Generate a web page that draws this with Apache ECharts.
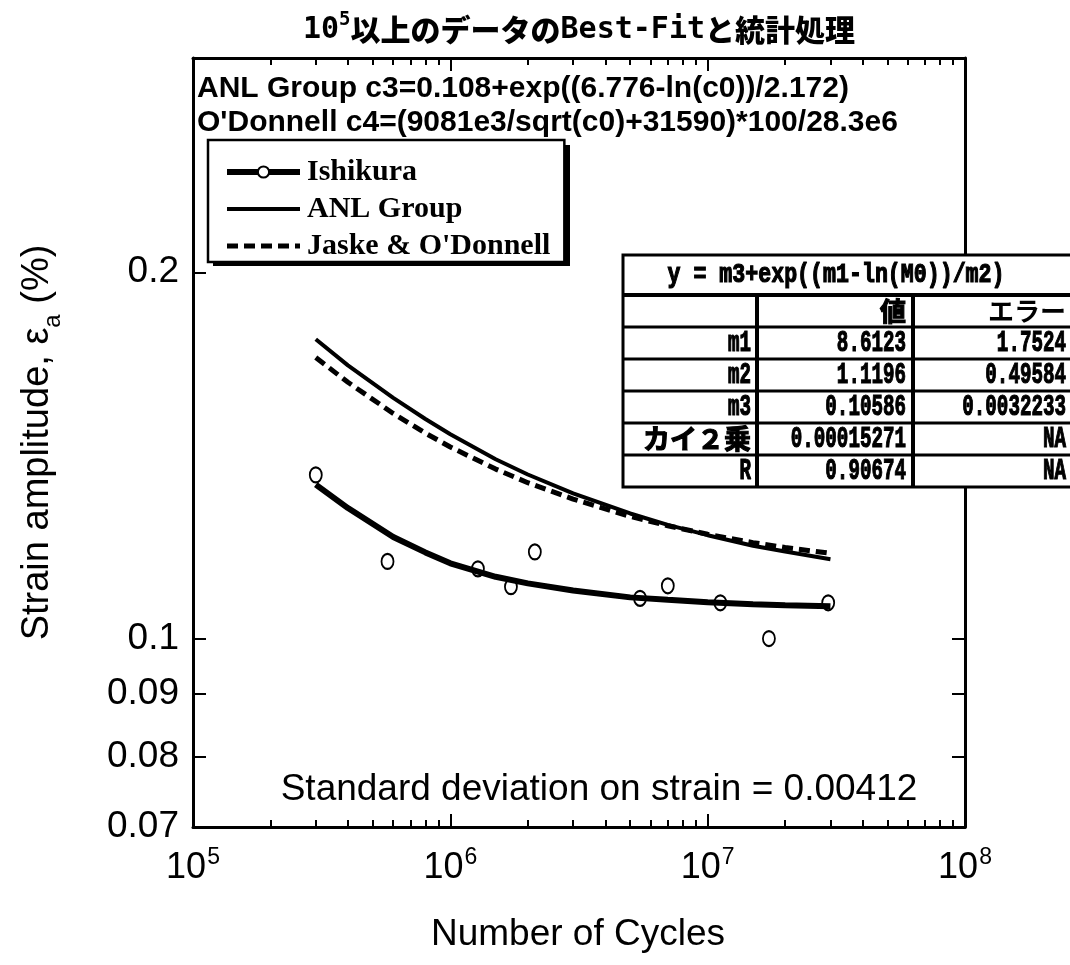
<!DOCTYPE html>
<html>
<head>
<meta charset="utf-8">
<script src="https://cdn.jsdelivr.net/npm/echarts@6/dist/echarts.min.js"></script>
<style>
  html, body { margin: 0; padding: 0; background: #fff; }
  #chart { width: 1070px; height: 965px; }
</style>
</head>
<body>
<div id="chart"></div>
<script>
// Measured Ishikura fatigue points (cycles, strain amplitude %)
const ishikuraCycles = [3.0e5, 5.7e5, 1.28e6, 1.72e6, 2.13e6, 5.46e6, 7.0e6, 1.12e7, 1.73e7, 2.94e7];
const ishikuraStrain = [0.1363, 0.1157, 0.1141, 0.1103, 0.1178, 0.1079, 0.1105, 0.1070, 0.1000, 0.1070];

// Curves sampled along the cycle range
const curveCycles   = [3e5, 4e5, 6e5, 8e5, 1e6, 1.5e6, 2e6, 3e6, 5e6, 7e6, 1e7, 1.5e7, 2e7, 3e7];
const ishikuraFit   = [0.1338, 0.1280, 0.1212, 0.1177, 0.1153, 0.1124, 0.1110, 0.1095, 0.1081, 0.1076, 0.1071, 0.1067, 0.1065, 0.1063];
const anlGroup      = [0.1762, 0.1677, 0.1577, 0.1515, 0.1472, 0.1404, 0.1364, 0.1316, 0.1267, 0.1240, 0.1216, 0.1192, 0.1179, 0.1162];
const jaskeODonnell = [0.1702, 0.1624, 0.1531, 0.1475, 0.1437, 0.1378, 0.1343, 0.1302, 0.1260, 0.1238, 0.1218, 0.1199, 0.1188, 0.1175];

// Axis ticks and labels
const xLabelValues = [1e5, 1e6, 1e7, 1e8];
const xMajorTicks = [1e6, 1e7];
const xMinorTicks = [2e5, 3e5, 4e5, 5e5, 6e5, 7e5, 8e5, 9e5,
                     2e6, 3e6, 4e6, 5e6, 6e6, 7e6, 8e6, 9e6,
                     2e7, 3e7, 4e7, 5e7, 6e7, 7e7, 8e7, 9e7];
const yLabelValues = [0.07, 0.08, 0.09, 0.1, 0.2];
const yTickValues = [0.08, 0.09, 0.1, 0.2];

// Fit parameter table
const tableTitle = 'y = m3+exp((m1-ln(M0))/m2)';
const tableHead = ['', '値', 'エラー'];
const paramNames = ['m1', 'm2', 'm3', 'カイ２乗', 'R'];
const paramValues = ['8.6123', '1.1196', '0.10586', '0.00015271', '0.90674'];
const paramErrors = ['1.7524', '0.49584', '0.0032233', 'NA', 'NA'];

const formulaANL = 'ANL Group c3=0.108+exp((6.776-ln(c0))/2.172)';
const formulaODonnell = "O'Donnell c4=(9081e3/sqrt(c0)+31590)*100/28.3e6";
const stdText = 'Standard deviation on strain = 0.00412';

const pairs = (xs, ys) => xs.map((x, i) => [x, ys[i]]);

const SANS = '"Liberation Sans", Arial, Helvetica, sans-serif';
const MONO = '"DejaVu Sans Mono", monospace';
const TABLE_MONO = '"Liberation Mono", "DejaVu Sans Mono", monospace';
const CJK = '"Noto Sans CJK JP", sans-serif';

const supLabel = (v) => '{b|10}{s|' + Math.round(Math.log10(v)) + '}';
const supRich = {
  b: { fontFamily: SANS, fontSize: 36, color: '#000', lineHeight: 40, verticalAlign: 'bottom' },
  s: { fontFamily: SANS, fontSize: 23, color: '#000', lineHeight: 40, verticalAlign: 'top', padding: [0, 0, 0, 1] }
};

function xAxisDef(position, ticks, len, withLine, withLabels) {
  return {
    type: 'log', logBase: 10, min: 1e5, max: 1e8, position: position,
    axisLine: { show: withLine, lineStyle: { color: '#000', width: 3 } },
    axisTick: { show: true, inside: true, length: len, customValues: ticks, lineStyle: { color: '#000', width: 2 } },
    axisLabel: withLabels ? {
      show: true, customValues: xLabelValues, margin: 19,
      formatter: supLabel, rich: supRich
    } : { show: false },
    splitLine: { show: false }, minorTick: { show: false }
  };
}

function yAxisDef(position, withLabels) {
  return {
    type: 'log', logBase: 10, min: 0.07, max: 0.3, position: position,
    axisLine: { show: true, lineStyle: { color: '#000', width: 3 } },
    axisTick: { show: true, inside: true, length: 13, customValues: yTickValues, lineStyle: { color: '#000', width: 2 } },
    axisLabel: withLabels ? {
      show: true, customValues: yLabelValues, margin: 14,
      fontFamily: SANS, fontSize: 37, color: '#000',
      formatter: (v) => String(parseFloat(Number(v).toPrecision(2)))
    } : { show: false },
    splitLine: { show: false }
  };
}

// Parameter table drawn as graphic elements
const colX = [623, 757, 913, 1085];
const rowY = [255, 295, 327, 359, 391, 423, 455, 487];

function cellText(x, y, text, align, family, size, scaleX, bolder) {
  return {
    type: 'text', x: x, y: y, scaleX: scaleX, z: 61,
    style: { text: text, align: align, verticalAlign: 'middle', fill: '#000',
             stroke: bolder ? '#000' : null, lineWidth: bolder ? 1.2 : 0,
             fontFamily: family, fontSize: size, fontWeight: 'bold' }
  };
}

const tableElems = [];
tableElems.push({ type: 'rect', z: 60,
  shape: { x: colX[0], y: rowY[0], width: colX[3] - colX[0], height: rowY[7] - rowY[0] },
  style: { fill: '#fff', stroke: '#000', lineWidth: 3 } });
for (let i = 1; i < rowY.length - 1; i++) {
  tableElems.push({ type: 'line', z: 61,
    shape: { x1: colX[0], y1: rowY[i], x2: colX[3], y2: rowY[i] },
    style: { stroke: '#000', lineWidth: i === 1 ? 4 : 3 } });
}
[colX[1], colX[2]].forEach((cx) => {
  tableElems.push({ type: 'line', z: 61,
    shape: { x1: cx, y1: rowY[1], x2: cx, y2: rowY[7] },
    style: { stroke: '#000', lineWidth: 4 } });
});
tableElems.push(cellText(836, (rowY[0] + rowY[1]) / 2, tableTitle, 'center', TABLE_MONO, 27, 0.8, true));
const headY = (rowY[1] + rowY[2]) / 2;
tableElems.push(cellText(colX[2] - 7, headY, tableHead[1], 'right', CJK, 26, 1, true));
tableElems.push(cellText(1066, headY, tableHead[2], 'right', CJK, 26, 1, false));
paramNames.forEach((name, i) => {
  const cy = (rowY[i + 2] + rowY[i + 3]) / 2;
  const isCjk = /[^\x00-\x7f]/.test(name);
  tableElems.push(cellText(colX[1] - 6, cy, name, 'right', isCjk ? CJK : TABLE_MONO, isCjk ? 27 : 30, isCjk ? 1 : 0.64, true));
  tableElems.push(cellText(colX[2] - 7, cy, paramValues[i], 'right', TABLE_MONO, 30, 0.64, true));
  tableElems.push(cellText(1066, cy, paramErrors[i], 'right', TABLE_MONO, 30, 0.64, true));
});

// Hidden marker for the two plain line entries in the legend
const noMarker = { color: 'rgba(0,0,0,0)', borderColor: 'rgba(0,0,0,0)', borderWidth: 0 };

const chart = echarts.init(document.getElementById('chart'));
chart.setOption({
  animation: false,
  backgroundColor: '#fff',
  title: {
    text: '{n|10}{s|5}{j|以上のデータの}{m|Best-Fit}{j|と統計処理}',
    left: 298, top: 4,
    textStyle: {
      rich: {
        n: { fontFamily: MONO, fontWeight: 'bold', fontSize: 30, color: '#000', lineHeight: 36, verticalAlign: 'bottom' },
        s: { fontFamily: MONO, fontWeight: 'bold', fontSize: 19, color: '#000', lineHeight: 36, verticalAlign: 'top', padding: [2, 0, 0, 0] },
        j: { fontFamily: CJK, fontWeight: 900, fontSize: 30, color: '#000', lineHeight: 36, verticalAlign: 'bottom' },
        m: { fontFamily: MONO, fontWeight: 'bold', fontSize: 30, color: '#000', lineHeight: 36, verticalAlign: 'bottom' }
      }
    }
  },
  grid: { left: 193, right: 105, top: 58, bottom: 138, containLabel: false },
  legend: {
    data: [
      { name: 'Ishikura' },
      { name: 'ANL Group', itemStyle: noMarker },
      { name: "Jaske & O'Donnell", itemStyle: noMarker }
    ],
    orient: 'vertical', left: 208, top: 140, z: 10,
    itemWidth: 73, itemHeight: 14, itemGap: 7,
    padding: [17, 14, 1, 16],
    backgroundColor: '#fff', borderColor: '#000', borderWidth: 2.5, borderRadius: 0,
    selectedMode: false,
    lineStyle: { width: 'inherit' },
    textStyle: { fontFamily: '"Liberation Serif", "Times New Roman", serif', fontWeight: 'bold', fontSize: 30, color: '#000', padding: [0, 0, 0, 2] }
  },
  xAxis: [
    xAxisDef('bottom', xMajorTicks, 13, true, true),
    xAxisDef('bottom', xMinorTicks, 7, false, false),
    xAxisDef('top', xMajorTicks, 13, true, false),
    xAxisDef('top', xMinorTicks, 7, false, false)
  ],
  yAxis: [
    Object.assign(yAxisDef('left', true), {
      name: '{t|Strain amplitude, ε}{u|a}{t| (%)}',
      nameLocation: 'middle', nameGap: 136, nameRotate: 90,
      nameTextStyle: {
        rich: {
          t: { fontFamily: SANS, fontSize: 38, color: '#000', lineHeight: 44, verticalAlign: 'bottom' },
          u: { fontFamily: SANS, fontSize: 24, color: '#000', lineHeight: 44, verticalAlign: 'bottom', padding: [0, 0, -8, 0] }
        }
      }
    }),
    yAxisDef('right', false)
  ],
  series: [
    {
      name: 'Ishikura', type: 'line', data: pairs(curveCycles, ishikuraFit),
      xAxisIndex: 0, yAxisIndex: 0,
      symbol: 'circle', symbolSize: 10, showSymbol: false,
      itemStyle: { color: '#fff', borderColor: '#000', borderWidth: 2 },
      lineStyle: { color: '#000', width: 6 }, z: 3
    },
    {
      name: 'ANL Group', type: 'line', data: pairs(curveCycles, anlGroup),
      xAxisIndex: 0, yAxisIndex: 0, symbol: 'none',
      itemStyle: { color: '#000' },
      lineStyle: { color: '#000', width: 4 }, z: 3
    },
    {
      name: "Jaske & O'Donnell", type: 'line', data: pairs(curveCycles, jaskeODonnell),
      xAxisIndex: 0, yAxisIndex: 0, symbol: 'none',
      itemStyle: { color: '#000' },
      lineStyle: { color: '#000', width: 5, type: [11, 6] }, z: 3
    },
    {
      name: 'Ishikura data', type: 'scatter', data: pairs(ishikuraCycles, ishikuraStrain),
      xAxisIndex: 0, yAxisIndex: 0,
      symbol: 'circle', symbolSize: [12, 15],
      itemStyle: { color: 'rgba(255,255,255,0)', borderColor: '#000', borderWidth: 2, opacity: 1 }, z: 4
    }
  ],
  graphic: [
    // solid drop shadow behind the legend box
    { type: 'rect', z: 1, shape: { x: 213, y: 145, width: 357, height: 121 }, style: { fill: '#000' } },
    { type: 'text', x: 197, y: 89, z: 20,
      style: { text: formulaANL, fontFamily: SANS, fontWeight: 'bold', fontSize: 30, fill: '#000', verticalAlign: 'middle' } },
    { type: 'text', x: 197, y: 123, z: 20,
      style: { text: formulaODonnell, fontFamily: SANS, fontWeight: 'bold', fontSize: 30, fill: '#000', verticalAlign: 'middle' } },
    { type: 'text', x: 599, y: 790, z: 20,
      style: { text: stdText, fontFamily: SANS, fontSize: 37, fill: '#000', align: 'center', verticalAlign: 'middle' } },
    { type: 'text', x: 578, y: 935, z: 20,
      style: { text: 'Number of Cycles', fontFamily: SANS, fontSize: 37, fill: '#000', align: 'center', verticalAlign: 'middle' } },
    { type: 'group', z: 60, children: tableElems }
  ]
});
</script>
</body>
</html>
